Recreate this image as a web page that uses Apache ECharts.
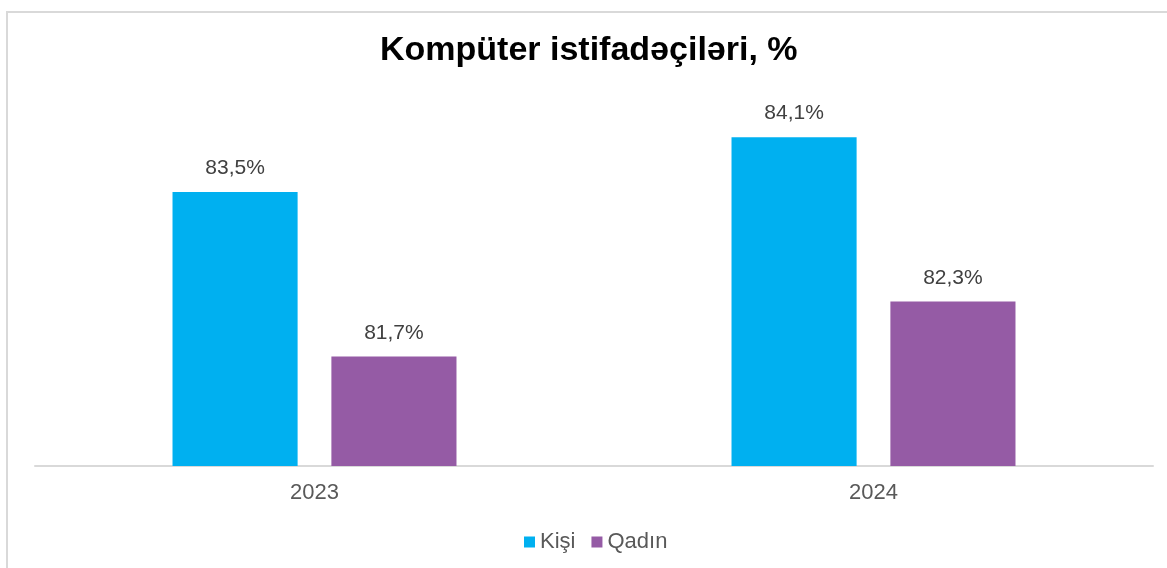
<!DOCTYPE html>
<html>
<head>
<meta charset="utf-8">
<script src="https://cdn.jsdelivr.net/npm/echarts@6/dist/echarts.min.js"></script>
<style>
  html, body { margin: 0; padding: 0; background: #ffffff; }
  #chart { width: 1167px; height: 568px; }
</style>
</head>
<body>
<div id="chart"></div>
<script>
// Computer users by sex, share of population (%)
const years = ['2023', '2024'];
const kisi = [83.5, 84.1];
const qadin = [81.7, 82.3];
const seriesNames = ['Kişi', 'Qadın'];
const titleText = 'Kompüter istifadəçiləri, %';

const FONT = 'Liberation Sans, Arial, sans-serif';
const fmt = p => p.value.toFixed(1).replace('.', ',') + '%';

const labelStyle = {
  show: true,
  position: 'top',
  distance: 13,
  color: '#404040',
  fontSize: 21,
  fontFamily: FONT,
  formatter: fmt
};

const chart = echarts.init(document.getElementById('chart'), null, { renderer: 'canvas' });
chart.setOption({
  animation: false,
  backgroundColor: '#ffffff',
  textStyle: { fontFamily: FONT },
  graphic: [{
    type: 'rect',
    shape: { x: 7, y: 12, width: 1200, height: 600 },
    style: { fill: 'none', stroke: '#d9d9d9', lineWidth: 2 },
    silent: true
  }],
  title: {
    text: titleText,
    left: 380,
    top: 34,
    padding: 0,
    textStyle: {
      fontSize: 34,
      fontWeight: 'bold',
      color: '#000000',
      fontFamily: FONT
    }
  },
  legend: {
    data: seriesNames,
    top: 526,
    left: 519,
    itemWidth: 11,
    itemHeight: 11,
    itemGap: 16,
    icon: 'rect',
    textStyle: { color: '#595959', fontSize: 22, fontFamily: FONT, padding: [0, 0, 0, 0] }
  },
  grid: { left: 35, right: 14, top: 55, bottom: 102 },
  xAxis: {
    type: 'category',
    data: years,
    axisLine: { show: true, lineStyle: { color: '#d9d9d9', width: 2 } },
    axisTick: { show: false },
    axisLabel: { color: '#595959', fontSize: 22, margin: 16, fontFamily: FONT }
  },
  yAxis: {
    type: 'value',
    min: 80.5,
    max: 85,
    show: false,
    splitLine: { show: false }
  },
  series: [
    {
      name: seriesNames[0],
      type: 'bar',
      data: kisi,
      itemStyle: { color: '#00b0f0' },
      barGap: '27%',
      barCategoryGap: '49.2%',
      label: labelStyle
    },
    {
      name: seriesNames[1],
      type: 'bar',
      data: qadin,
      itemStyle: { color: '#955ba5' },
      label: labelStyle
    }
  ]
});
</script>
</body>
</html>
